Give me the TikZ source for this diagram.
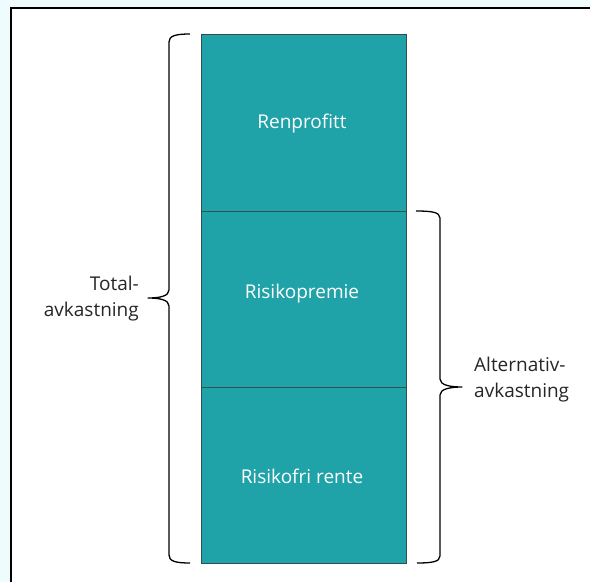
\documentclass[tikz,border=0pt]{standalone}
\usepackage{fontspec}
\setmainfont{Open Sans}
\definecolor{bgc}{HTML}{EEFCFD}
\definecolor{tealc}{HTML}{1FA3A8}
\definecolor{edgec}{HTML}{2F4F50}
\tikzset{
  block/.style={rectangle, fill=tealc, draw=edgec, line width=0.8pt, minimum width=205pt, inner sep=0pt},
  intext/.style={text=white, font=\fontsize{19}{22}\selectfont, inner sep=0pt},
  bracec/.style={draw=black, line width=1.3pt, line join=round},
  lbl/.style={font=\fontsize{19}{26}\selectfont, text=black!85, inner sep=0pt}
}
\begin{document}
\begin{tikzpicture}[x=1pt,y=-1pt]
\fill[bgc] (0,0) rectangle (590,582);
\useasboundingbox (0,0) rectangle (590,582);
\fill[white] (11,8) rectangle (590,582);
\draw[line width=1.4pt, black] (590,8) -- (11,8) -- (11,582);
% column
\node[block, minimum height=177pt, anchor=north west] (ren) at (201,34) {};
\node[block, minimum height=176pt, anchor=north west] (pre) at (201,211) {};
\node[block, minimum height=176pt, anchor=north west] (fri) at (201,387) {};
\node[intext] (tren) at (302,124) {Renprofitt};
\node[intext] (tpre) at (302,294) {Risikopremie};
\node[intext] (tfri) at (302,476) {Risikofri rente};
% left brace
\coordinate (lt) at (190,34);
\coordinate (lm) at (148,298);
\coordinate (lb) at (190,563);
\draw[bracec] (lt) .. controls (175,34) and (169,36) .. (169,42)
  -- (169,290) .. controls (169,296) and (160,298) .. (lm)
  .. controls (160,298) and (169,300) .. (169,306)
  -- (169,555) .. controls (169,561) and (175,563) .. (lb);
% right brace
\coordinate (rt) at (416,211);
\coordinate (rm) at (462,387);
\coordinate (rb) at (417,563);
\draw[bracec] (rt) .. controls (431,211) and (440,212) .. (440,218)
  -- (440,379) .. controls (440,385) and (450,387) .. (rm)
  .. controls (450,387) and (440,389) .. (440,395)
  -- (440,556) .. controls (440,562) and (431,563) .. (rb);
% labels
\node[lbl, align=right, anchor=east] (tot) at (139,299) {Total-\\avkastning};
\node[lbl, align=left, anchor=west] (alt) at (474,380) {Alternativ-\\avkastning};
\end{tikzpicture}
\end{document}
